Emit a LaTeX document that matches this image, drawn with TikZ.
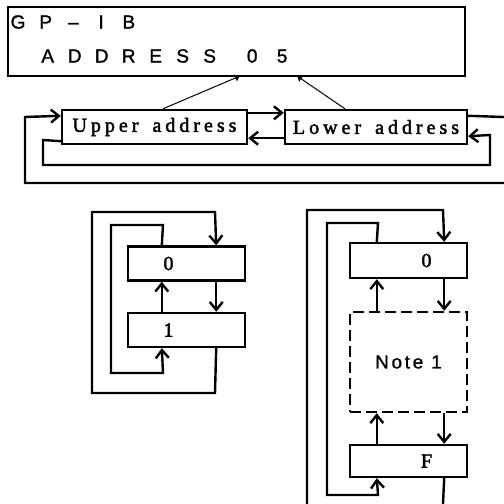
\documentclass[tikz,border=0pt]{standalone}
\usepackage{fontspec}
\usepackage{tikz}
\usetikzlibrary{arrows.meta,calc,positioning}
\newfontfamily\lcdfont{Liberation Sans}[FakeBold=1.5]
\newfontfamily\prtfont{Liberation Serif}[LetterSpace=20,FakeBold=2]
\newfontfamily\notefont{Liberation Sans}[LetterSpace=14,FakeBold=1]
% display text: one character per fixed cell
\newcommand\lcd[2]{\def\lcdpitch{#1}\lcdloop#2\relax}
\def\lcdloop#1{\ifx#1\relax\else\makebox[\lcdpitch][c]{#1}\expandafter\lcdloop\fi}

\begin{document}
\begin{tikzpicture}[x=1pt,y=-1pt,
    wire/.style={line width=2.4pt},
    flow/.style={wire,-{Straight Barb[length=8pt,width=13pt]}},
    reg/.style={draw,line width=2.4pt,minimum width=117pt,minimum height=34pt,inner sep=0pt,
      font=\prtfont\fontsize{20}{20}\selectfont},
    digit/.style={font=\prtfont\fontsize{20}{20}\selectfont},
    disp/.style={anchor=west,inner sep=0pt,font=\lcdfont\fontsize{19}{19}\selectfont}]
        \useasboundingbox (0,0) rectangle (504,504);
        %Display panel
        \node[draw,line width=2.4pt,minimum width=457pt,minimum height=69pt,inner sep=0pt] (panel) at (236.5,41.5) {};
        \node[disp] (gpib) at (4,22) {\lcd{27.7pt}{GP–IB}};
        \node[disp] (addr) at (34,56) {\lcd{27pt}{ADDRESS}};
        \node[disp] (addrval) at (237,56) {\lcd{30pt}{05}};
        \coordinate (hi) at (240,76);
        \coordinate (lo) at (297,76);
        %Address registers
        \node[reg,minimum width=185pt] (upper) at (154.5,127) {Upper \hspace{5pt}address};
        \node[reg,minimum width=182pt] (lower) at (376,127) {Lower \hspace{5pt}address};
        \draw[line width=1pt,-{Latex[length=5pt,width=8pt]}] ($(upper.north)+(8.5,0)$) -- (hi);
        \draw[line width=1pt,-{Latex[length=5pt,width=8pt]}] ($(lower.north)+(-31,0)$) -- (lo);
        \draw[flow] ($(upper.north east)+(0,4)$) -- ($(lower.north west)+(0,4)$);
        \draw[flow] ($(lower.south west)+(0,-7)$) -- ($(upper.south east)+(0,-7)$);
        \coordinate (oa) at (504,117);
        \coordinate (ob) at (504,183);
        \coordinate (oc) at (25,183);
        \coordinate (od) at (25,117);
        \coordinate (ia) at (43,140);
        \coordinate (ib) at (43,165);
        \coordinate (ic) at (490,165);
        \coordinate (id) at (490,135);
        \draw[wire] ($(lower.north east)+(0,7)$) -- (oa);
        \draw[flow] (ob) -- (oc) -- (od) -- ($(upper.north west)+(0,7)$);
        \draw[flow] ($(upper.south west)+(0,-4)$) -- (ia) -- (ib) -- (ic) -- (id) -- ($(lower.south east)+(0,-9)$);
        %Upper digit: 0 and 1
        \node[reg,label={[digit,xshift=-18pt]center:0}] (zeroA) at (186.5,263.5) {};
        \node[reg,label={[digit,xshift=-18pt]center:1}] (oneA) at (186.5,330) {};
        \coordinate (la1) at (215,212);
        \coordinate (la2) at (92,212);
        \coordinate (la3) at (92,393);
        \coordinate (la4) at (215,393);
        \coordinate (lb1) at (163,225);
        \coordinate (lb2) at (111,225);
        \coordinate (lb3) at (111,373);
        \coordinate (lb4) at (163,373);
        \draw[flow] ($(oneA.south east)+(-30,0)$) -- (la4) -- (la3) -- (la2) -- (la1) -- ($(zeroA.north east)+(-30,0)$);
        \draw[flow] ($(zeroA.north west)+(35,0)$) -- (lb1) -- (lb2) -- (lb3) -- (lb4) -- ($(oneA.south west)+(35,0)$);
        \draw[flow] ($(oneA.north west)+(35,0)$) -- ($(zeroA.south west)+(35,0)$);
        \draw[flow] ($(zeroA.south east)+(-30,0)$) -- ($(oneA.north east)+(-30,0)$);
        %Lower digit: 0 to F
        \node[reg,minimum height=35pt,label={[digit,xshift=18pt]center:0}] (zeroB) at (408.5,260.5) {};
        \node[reg,dashed,dash pattern=on 11pt off 5pt,minimum height=100pt,
          font=\notefont\fontsize{19}{19}\selectfont] (note) at (408.5,362) {Note 1};
        \node[reg,minimum height=32pt,label={[digit,xshift=18pt]center:F}] (effB) at (408.5,461) {};
        \coordinate (ra1) at (443,210);
        \coordinate (ra2) at (307,210);
        \coordinate (ra3) at (307,504);
        \coordinate (ra4) at (443,504);
        \coordinate (rb1) at (378,223);
        \coordinate (rb2) at (327,223);
        \coordinate (rb3) at (327,495);
        \coordinate (rb4) at (378,495);
        \draw[wire] ($(effB.south east)+(-24,0)$) -- (ra4);
        \draw[flow] (ra3) -- (ra2) -- (ra1) -- ($(zeroB.north east)+(-24,0)$);
        \draw[flow] ($(zeroB.north west)+(28,0)$) -- (rb1) -- (rb2) -- (rb3) -- (rb4) -- ($(effB.south west)+(28,0)$);
        \foreach \a/\b in {note/zeroB,effB/note}
          \draw[flow] ($(\a.north west)+(28,0)$) -- ($(\b.south west)+(28,0)$);
        \foreach \a/\b in {zeroB/note,note/effB}
          \draw[flow] ($(\a.south east)+(-24,0)$) -- ($(\b.north east)+(-24,0)$);
\end{tikzpicture}
\end{document}
